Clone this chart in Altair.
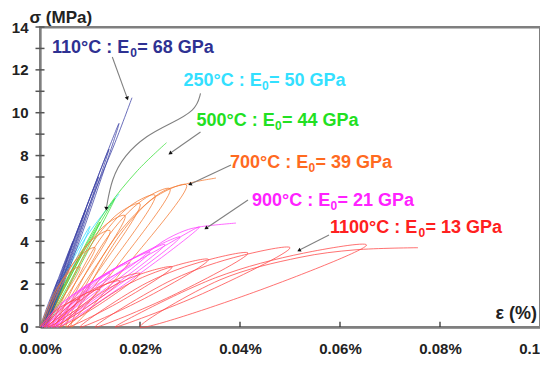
import altair as alt
import pandas as pd

# ---------------- data (strain in %, stress in MPa) ----------------
curve_110 = [(0, 0), (0.0018, 1.17), (0.0036, 2.2), (0.00195, 1.03), (0.0003, 0),
             (0.00345, 2.12), (0.0066, 4.0), (0.00355, 1.88), (0.0005, 0),
             (0.00485, 2.92), (0.0092, 5.5), (0.00495, 2.59), (0.0007, 0),
             (0.0062, 3.71), (0.0117, 7.0), (0.0063, 3.29), (0.0009, 0),
             (0.00735, 4.40), (0.0138, 8.3), (0.00745, 3.90), (0.0011, 0),
             (0.00845, 5.04), (0.0158, 9.5), (0.0086, 4.47), (0.0013, 0),
             (0.00985, 5.67), (0.0150, 8.6), (0.0184, 10.7)]

curve_250 = [(0, 0), (0.0030, 1.6), (0.0058, 2.9), (0.0034, 1.35), (0.0004, 0),
             (0.0052, 2.65), (0.0100, 4.7), (0.0054, 2.2), (0.0008, 0),
             (0.0080, 3.75), (0.0158, 6.2)]

curve_500 = [(0, 0), (0.0024, 1.06), (0.0048, 2.0), (0.00255, 0.94), (0.0003, 0),
             (0.0044, 1.86), (0.0085, 3.5), (0.00455, 1.65), (0.0006, 0),
             (0.0063, 2.6), (0.0120, 4.9), (0.00645, 2.3), (0.0009, 0),
             (0.00795, 3.18), (0.0150, 6.0), (0.00795, 2.82), (0.0012, 0),
             (0.0072, 3.0), (0.0133, 5.5), (0.0195, 7.3), (0.0253, 8.6)]

curve_700 = [(0, 0), (0.0032, 1.74), (0.006, 2.58), (0.008, 2.8), (0.00425, 1.26), (0.0005, 0),
             (0.0047, 2.29), (0.00838, 3.40), (0.011, 3.7), (0.006, 1.67), (0.001, 0),
             (0.0062, 2.79), (0.01075, 4.14), (0.014, 4.5), (0.00785, 2.03), (0.0017, 0),
             (0.00782, 3.22), (0.01318, 4.78), (0.017, 5.2), (0.00975, 2.34), (0.0025, 0),
             (0.0095, 3.57), (0.01563, 5.29), (0.020, 5.75), (0.01165, 2.59), (0.0033, 0),
             (0.01118, 3.81), (0.01808, 5.66), (0.023, 6.15), (0.0136, 2.77), (0.0042, 0),
             (0.01292, 4.0), (0.02055, 5.93), (0.026, 6.45), (0.0156, 2.90), (0.0052, 0),
             (0.01484, 4.11), (0.02328, 6.10), (0.0293, 6.63), (0.01775, 2.98), (0.0062, 0),
             (0.0160, 4.3), (0.0240, 6.25), (0.0300, 6.72), (0.0352, 6.95)]

curve_900 = [(0, 0), (0.004, 1.05), (0.0075, 1.62), (0.010, 1.9), (0.0052, 0.855), (0.0004, 0),
             (0.00584, 1.375), (0.0106, 2.125), (0.014, 2.5), (0.0074, 1.125), (0.0008, 0),
             (0.00768, 1.65), (0.0137, 2.55), (0.018, 3.0), (0.0096, 1.35), (0.0012, 0),
             (0.00952, 1.925), (0.0168, 2.975), (0.022, 3.5), (0.01185, 1.575), (0.0017, 0),
             (0.01102, 2.12), (0.01918, 3.27), (0.025, 3.85), (0.0136, 1.73), (0.0022, 0),
             (0.01252, 2.31), (0.02155, 3.57), (0.028, 4.2), (0.01535, 1.89), (0.0027, 0),
             (0.01438, 2.34), (0.0246, 3.74), (0.0319, 4.67), (0.0176, 2.10), (0.0033, 0),
             (0.0100, 1.75), (0.0182, 2.85), (0.0244, 3.97), (0.0290, 4.5), (0.0319, 4.67),
             (0.0392, 4.85)]

curve_1100 = [(0, 0), (0.0032, 0.78), (0.006, 1.17), (0.008, 1.3), (0.0044, 0.546), (0.0008, 0),
              (0.00528, 1.05), (0.0092, 1.575), (0.012, 1.75), (0.0068, 0.735), (0.0016, 0),
              (0.00736, 1.29), (0.0124, 1.935), (0.016, 2.15), (0.0093, 0.903), (0.0026, 0),
              (0.00956, 1.5), (0.01565, 2.25), (0.020, 2.5), (0.0119, 1.05), (0.0038, 0),
              (0.01284, 1.68), (0.02075, 2.52), (0.0264, 2.8), (0.01595, 1.176), (0.0055, 0),
              (0.01678, 1.89), (0.02665, 2.835), (0.0337, 3.15), (0.02085, 1.323), (0.008, 0),
              (0.02144, 2.07), (0.0332, 3.105), (0.0416, 3.45), (0.0263, 1.449), (0.011, 0),
              (0.0266, 2.22), (0.04025, 3.33), (0.050, 3.7), (0.0325, 1.554), (0.015, 0),
              (0.03512, 2.30), (0.05273, 3.447), (0.0653, 3.83), (0.04265, 1.609), (0.020, 0),
              (0.036, 2.2), (0.052, 3.25), (0.063, 3.6), (0.0756, 3.7)]

# labels: "<temp> : E" + subscript "0" + "= <modulus> GPa"
label_prefix = ["110°C : E", "250°C : E", "500°C : E", "700°C : E", "900°C : E", "1100°C : E"]
label_sub = ["0", "0", "0", "0", "0", "0"]
label_suffix = ["= 68 GPa", "= 50 GPa", "= 44 GPa", "= 39 GPa", "= 21 GPa", "= 13 GPa"]
label_strain = [0.00238, 0.0287, 0.0313, 0.0380, 0.0424, 0.0580]
label_stress = [13.04, 11.48, 9.61, 7.65, 5.88, 4.62]

arrow_paths = {
    "110": [(0.01446, 12.6), (0.01743, 10.69)],
    "250": [(0.0321, 10.9), (0.0312, 10.1), (0.0257, 9.45), (0.0214, 8.95),
            (0.0168, 8.0), (0.0143, 6.9), (0.01327, 5.55)],
    "500": [(0.0321, 9.1), (0.0261, 8.12)],
    "700": [(0.0382, 7.56), (0.0301, 6.67)],
    "900": [(0.0416, 5.93), (0.0333, 4.62)],
    "1100": [(0.0578, 4.29), (0.0519, 3.59)],
}
arrow_angle = {"110": 160, "250": 182, "500": 235, "700": 245, "900": 236, "1100": 243}

y_ticks = list(range(0, 15))
y_labels = [0, 2, 4, 6, 8, 10, 12, 14]
x_ticks = [0.02, 0.04, 0.06, 0.08]
x_labels = [0.0, 0.02, 0.04, 0.06, 0.08, 0.10]

# ---------------- styles ----------------
colors = {"110": "#3d42a6", "250": "#33dcff", "500": "#36e036",
          "700": "#f47a32", "900": "#ff3cff", "1100": "#ff4646"}
text_colors = ["#2e3192", "#33e0ff", "#22e022", "#ff6a1f", "#ff22ff", "#ff2020"]
FONT = "Liberation Sans"
FS = 18       # label font size
FS_SUB = 12   # subscript font size
W, H = 500, 300
X_MAX, Y_MAX = 0.1, 14.0

# Arial/Liberation Sans Bold advance widths (per 1000 em) for label layout
ADV = {"0": 556, "1": 556, "2": 556, "3": 556, "4": 556, "5": 556, "6": 556, "7": 556,
       "8": 556, "9": 556, "°": 400, "C": 722, " ": 278, ":": 333, "E": 667, "=": 584,
       "G": 778, "P": 667, "a": 556}


def text_px(s, size):
    return sum(ADV.get(c, 556) for c in s) * size / 1000.0


xscale = alt.Scale(domain=[0, X_MAX], nice=False, zero=True)
yscale = alt.Scale(domain=[0, Y_MAX], nice=False, zero=True)
xaxis = alt.Axis(values=x_labels, labelExpr="format(datum.value, '.2f') + '%'",
                 ticks=False, grid=False, domainColor="#333333", domainWidth=2,
                 labelFont=FONT, labelFontSize=15, labelFontWeight="bold",
                 labelColor="#222222", labelPadding=14, labelFlush=False,
                 title="ε (%)", titleFont=FONT, titleFontSize=18, titleFontWeight="bold",
                 titleColor="#222222", titleX=455, titleY=-5, titleAlign="left",
                 titleBaseline="bottom", titleAnchor="start")
yaxis = alt.Axis(values=y_labels, ticks=False, grid=False, domainColor="#555555",
                 domainWidth=2, labelFont=FONT, labelFontSize=15, labelFontWeight="bold",
                 labelColor="#222222", labelPadding=12,
                 title="σ (MPa)", titleFont=FONT, titleFontSize=17, titleFontWeight="bold",
                 titleColor="#222222", titleAngle=0, titleX=-11, titleY=-5,
                 titleAlign="left", titleBaseline="alphabetic", titleAnchor="start")
# frame: top and right axes showing only their domain line
xaxis_top = alt.Axis(orient="top", labels=False, ticks=False, grid=False, title=None,
                     domainColor="#7f7f7f", domainWidth=2)
yaxis_right = alt.Axis(orient="right", labels=False, ticks=False, grid=False, title=None,
                       domainColor="#7f7f7f", domainWidth=2)

X = alt.X("strain:Q", scale=xscale, axis=xaxis)
Y = alt.Y("stress:Q", scale=yscale, axis=yaxis)
XN = alt.X("strain:Q", scale=xscale, axis=None)
YN = alt.Y("stress:Q", scale=yscale, axis=None)


def curve_df(pts):
    return pd.DataFrame({"i": list(range(len(pts))),
                         "strain": [p[0] for p in pts],
                         "stress": [p[1] for p in pts]})


layers = []

# frame layer (carries top/right axes)
frame_df = pd.DataFrame({"strain": [0.0], "strain2": [X_MAX], "stress": [0.0], "stress2": [Y_MAX]})
layers.append(alt.Chart(frame_df).mark_rect(
    filled=False, fill="transparent", stroke="#7f7f7f", strokeWidth=2, opacity=1).encode(
    x=alt.X("strain:Q", scale=xscale, axis=xaxis_top), x2="strain2:Q",
    y=alt.Y("stress:Q", scale=yscale, axis=yaxis_right), y2="stress2:Q"))

# axis ticks (this layer carries the main left/bottom axes)
ytick_df = pd.DataFrame({"stress": y_ticks, "strain": [-0.0009] * len(y_ticks),
                         "strain2": [0.0009] * len(y_ticks)})
layers.append(alt.Chart(ytick_df).mark_rule(color="#555555", strokeWidth=1.5).encode(
    x=X, x2="strain2:Q", y=Y))
xtick_df = pd.DataFrame({"strain": x_ticks, "stress": [0] * len(x_ticks),
                         "stress2": [0.25] * len(x_ticks)})
layers.append(alt.Chart(xtick_df).mark_rule(color="#333333", strokeWidth=1.3).encode(
    x=XN, y=YN, y2="stress2:Q"))

for key, pts in [("250", curve_250), ("500", curve_500), ("110", curve_110),
                 ("700", curve_700), ("900", curve_900), ("1100", curve_1100)]:
    layers.append(alt.Chart(curve_df(pts)).mark_line(
        interpolate="catmull-rom", strokeWidth=0.9, color=colors[key], opacity=0.85
    ).encode(x=XN, y=YN, order="i:Q"))

# arrows
rows = []
heads = []
for key, pts in arrow_paths.items():
    for j, p in enumerate(pts):
        rows.append({"id": key, "i": j, "strain": p[0], "stress": p[1]})
    heads.append({"id": key, "strain": pts[-1][0], "stress": pts[-1][1], "ang": arrow_angle[key]})
layers.append(alt.Chart(pd.DataFrame(rows)).mark_line(
    interpolate="basis", color="#808080", strokeWidth=1.1).encode(
    x=XN, y=YN, detail="id:N", order="i:Q"))
layers.append(alt.Chart(pd.DataFrame(heads)).mark_point(
    shape="triangle", filled=True, color="#111111", size=18, opacity=1).encode(
    x=XN, y=YN, angle=alt.Angle("ang:Q", scale=None)))

# labels (three pieces so that E0 gets a real subscript)
px_per_x = W / X_MAX
px_per_y = H / Y_MAX
main_rows, sub_rows = [], []
for k in range(len(label_prefix)):
    x0 = label_strain[k]
    w_pre = text_px(label_prefix[k], FS)
    w_sub = text_px(label_sub[k], FS_SUB)
    main_rows.append({"text": label_prefix[k], "strain": x0, "stress": label_stress[k],
                      "col": text_colors[k]})
    main_rows.append({"text": label_suffix[k], "strain": x0 + (w_pre + w_sub + 0.5) / px_per_x,
                      "stress": label_stress[k], "col": text_colors[k]})
    sub_rows.append({"text": label_sub[k], "strain": x0 + (w_pre + 0.2) / px_per_x,
                     "stress": label_stress[k] - 5.0 / px_per_y, "col": text_colors[k]})
layers.append(alt.Chart(pd.DataFrame(main_rows)).mark_text(
    align="left", baseline="middle", font=FONT, fontSize=FS, fontWeight="bold").encode(
    x=XN, y=YN, text="text:N", color=alt.Color("col:N", scale=None)))
layers.append(alt.Chart(pd.DataFrame(sub_rows)).mark_text(
    align="left", baseline="middle", font=FONT, fontSize=FS_SUB, fontWeight="bold").encode(
    x=XN, y=YN, text="text:N", color=alt.Color("col:N", scale=None)))

chart = alt.layer(*layers).resolve_axis(x="independent", y="independent").properties(
    width=W, height=H,
    autosize=alt.AutoSizeParams(type="none"),
    padding={"left": 32, "top": 19, "right": 0, "bottom": 28},
    background="white",
).configure_view(stroke="#7f7f7f", strokeWidth=2)

chart.save("out.html", embed_options={"renderer": "svg", "actions": False})
